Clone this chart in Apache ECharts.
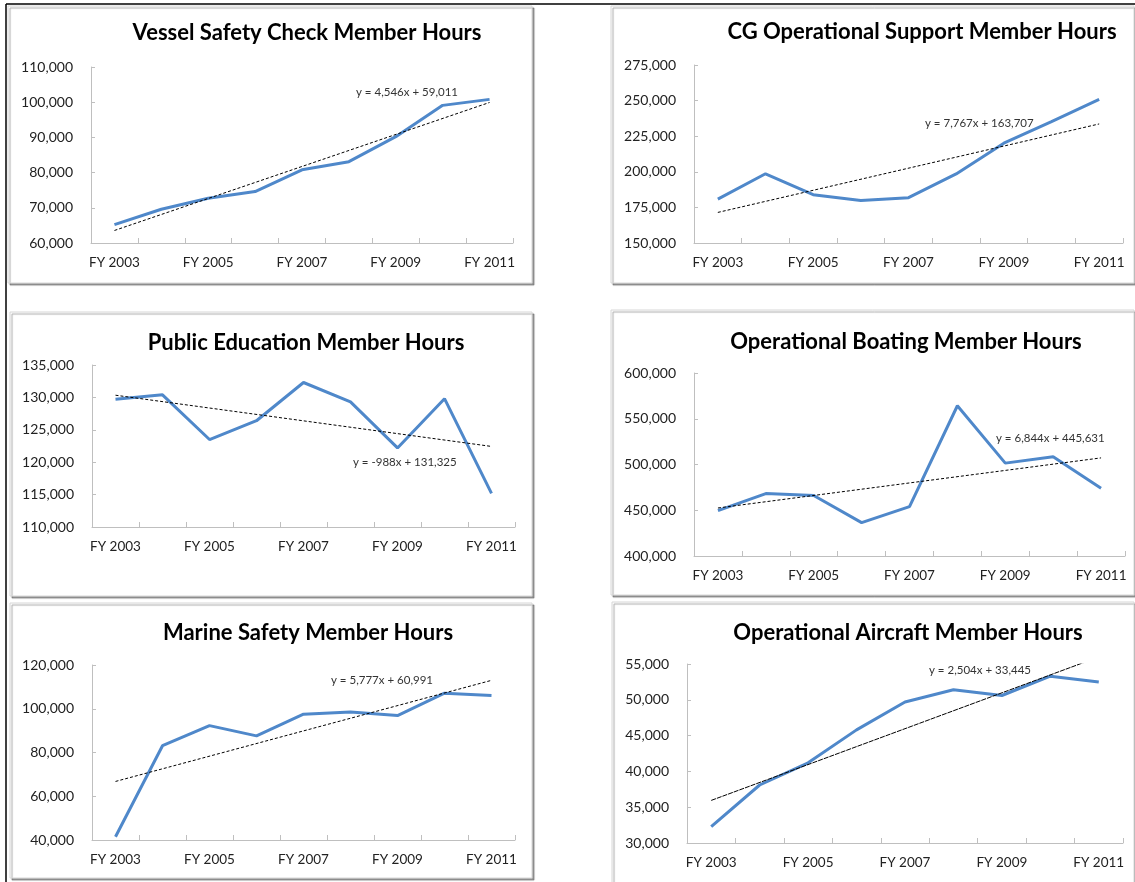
<!DOCTYPE html>
<html>
<head>
<meta charset="utf-8">
<title>Member Hours</title>
<script src="https://cdn.jsdelivr.net/npm/echarts@6/dist/echarts.min.js"></script>
<style>
html, body { margin: 0; padding: 0; background: #fff; }
#main { width: 1135px; height: 882px; }
</style>
</head>
<body>
<div id="main"></div>
<script>
const log = console.log.bind(console)

// data
const years = ['FY 2003', 'FY 2004', 'FY 2005', 'FY 2006', 'FY 2007', 'FY 2008', 'FY 2009', 'FY 2010', 'FY 2011']

const titles = [
    'Vessel Safety Check Member Hours',
    'CG Operational Support Member Hours',
    'Public Education Member Hours',
    'Operational Boating Member Hours',
    'Marine Safety Member Hours',
    'Operational Aircraft Member Hours',
]

const vesselSafety = [65200, 69600, 72700, 74600, 80800, 83100, 90200, 99100, 100800]
const cgSupport = [180800, 198600, 183900, 179900, 181800, 198500, 220100, 235300, 250900]
const publicEducation = [129700, 130400, 123500, 126400, 132300, 129300, 122200, 129800, 115200]
const opBoating = [449600, 468200, 466100, 436500, 454000, 564200, 501500, 508400, 474100]
const marineSafety = [41500, 83100, 92300, 87600, 97500, 98500, 96900, 107100, 106100]
const opAircraft = [32300, 38100, 41200, 45800, 49700, 51400, 50600, 53300, 52500]

// trendline equations printed on the charts: y = slope * x + intercept
const trendSlopes = [4546, 7767, -988, 6844, 5777, 2504]
const trendIntercepts = [59011, 163707, 131325, 445631, 60991, 33445]
const trendTexts = [
    'y = 4,546x + 59,011',
    'y = 7,767x + 163,707',
    'y = -988x + 131,325',
    'y = 6,844x + 445,631',
    'y = 5,777x + 60,991',
    'y = 2,504x + 33,445',
]

// y axis ranges
const axisMin = [60000, 150000, 110000, 400000, 40000, 30000]
const axisMax = [110000, 275000, 135000, 600000, 120000, 55000]
const axisStep = [10000, 25000, 5000, 50000, 20000, 5000]

const seriesValues = [vesselSafety, cgSupport, publicEducation, opBoating, marineSafety, opAircraft]

// layout of the six panels
const panels = [
    {box: [8, 6, 524, 277], grid: [91, 67, 422, 176], title: [307, 33], trend: [356, 92], dash: [3, 2]},
    {box: [611, 6, 523, 277], grid: [694, 65, 429, 178], title: [922, 32], trend: [925, 123], dash: [3, 2]},
    {box: [10, 312, 522, 284], grid: [92, 365, 423, 162], title: [306, 343], trend: [353, 462], dash: [3, 2]},
    {box: [611, 310, 523, 285], grid: [694, 373, 431, 183], title: [906, 342], trend: [996, 438], dash: [3, 2]},
    {box: [10, 603, 522, 275], grid: [92, 665, 423, 175], title: [308, 633], trend: [331, 680], dash: [3, 2]},
    {box: [612, 602, 522, 290], grid: [687, 664, 436, 179], title: [908, 633], trend: [929, 670], dash: [5, 1]},
]

const lineColor = '#4F88CA'
const axisColor = '#bfbfbf'
const fontFamily = 'Lato, "Open Sans", sans-serif'

const commas = (v) => String(v).replace(/\B(?=(\d{3})+(?!\d))/g, ',')

const trendData = (k) => {
    let last = years.length - 1
    return years.map((y, i) => {
        if (i === 0 || i === last) {
            return trendSlopes[k] * (i + 1) + trendIntercepts[k]
        }
        return null
    })
}

const buildOption = () => {
    let grid = []
    let xAxis = []
    let yAxis = []
    let series = []
    let graphic = [
        {type: 'line', z: 10, shape: {x1: 6, y1: 4, x2: 1135, y2: 4}, style: {stroke: '#000', lineWidth: 1.5}},
        {type: 'line', z: 10, shape: {x1: 6, y1: 4, x2: 6, y2: 882}, style: {stroke: '#000', lineWidth: 1.5}},
    ]

    panels.forEach((p, k) => {
        graphic.push({
            type: 'rect',
            z: -5,
            shape: {x: p.box[0], y: p.box[1], width: p.box[2], height: p.box[3]},
            style: {
                fill: '#fff',
                stroke: '#d6d6d6',
                lineWidth: 1,
                shadowColor: 'rgba(0,0,0,0.35)',
                shadowOffsetX: 2,
                shadowOffsetY: 2,
                shadowBlur: 1,
            },
        })
        graphic.push({
            type: 'text',
            z: 10,
            x: p.title[0],
            y: p.title[1],
            style: {
                text: titles[k],
                fontFamily: fontFamily,
                fontWeight: 'bold',
                fontSize: 22,
                fill: '#000',
                align: 'center',
                verticalAlign: 'middle',
            },
        })
        graphic.push({
            type: 'text',
            z: 10,
            x: p.trend[0],
            y: p.trend[1],
            style: {
                text: trendTexts[k],
                fontFamily: fontFamily,
                fontSize: 11.5,
                fill: '#333',
                align: 'left',
                verticalAlign: 'middle',
            },
        })

        grid.push({
            left: p.grid[0],
            top: p.grid[1],
            width: p.grid[2],
            height: p.grid[3],
            containLabel: false,
        })
        xAxis.push({
            type: 'category',
            gridIndex: k,
            data: years,
            boundaryGap: true,
            axisLine: {lineStyle: {color: axisColor, width: 1}},
            axisTick: {show: true, inside: true, length: 5, interval: 0, lineStyle: {color: axisColor}},
            axisLabel: {interval: 1, fontSize: 13.5, color: '#222', fontFamily: fontFamily, margin: 13},
            splitLine: {show: false},
        })
        yAxis.push({
            type: 'value',
            gridIndex: k,
            min: axisMin[k],
            max: axisMax[k],
            interval: axisStep[k],
            axisLine: {show: true, lineStyle: {color: axisColor, width: 1}},
            axisTick: {show: true, inside: true, length: 4, lineStyle: {color: axisColor}},
            axisLabel: {fontSize: 14, color: '#222', fontFamily: fontFamily, margin: 18, formatter: commas},
            splitLine: {show: false},
        })
        series.push({
            name: titles[k],
            type: 'line',
            xAxisIndex: k,
            yAxisIndex: k,
            data: seriesValues[k],
            symbol: 'none',
            lineStyle: {color: lineColor, width: 3},
            z: 2,
        })
        series.push({
            name: titles[k] + ' trend',
            type: 'line',
            xAxisIndex: k,
            yAxisIndex: k,
            data: trendData(k),
            connectNulls: true,
            symbol: 'none',
            clip: true,
            lineStyle: {color: '#000', width: 1, type: p.dash},
            z: 3,
        })
    })

    return {
        animation: false,
        backgroundColor: '#fff',
        grid: grid,
        xAxis: xAxis,
        yAxis: yAxis,
        series: series,
        graphic: graphic,
    }
}

const __main = () => {
    let element = document.querySelector('#main')
    let myChart = echarts.init(element)
    myChart.setOption(buildOption())
}

__main()
</script>
</body>
</html>
